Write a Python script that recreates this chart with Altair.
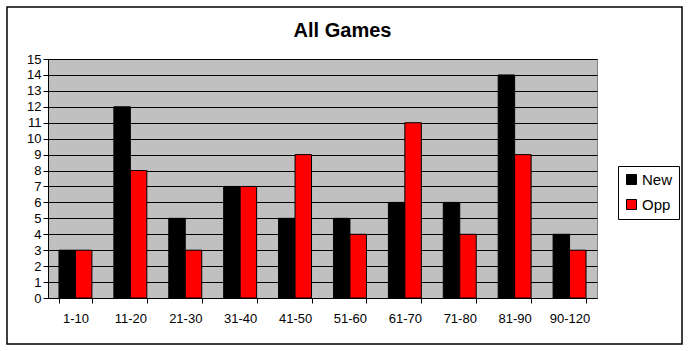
import altair as alt
import pandas as pd

categories = ["1-10", "11-20", "21-30", "31-40", "41-50", "51-60", "61-70", "71-80", "81-90", "90-120"]
new_vals = [3, 12, 5, 7, 5, 5, 6, 6, 14, 4]
opp_vals = [3, 8, 3, 7, 9, 4, 11, 4, 9, 3]
series = ["New", "Opp"]
colors = ["#000000", "#ff0000"]

rows = []
for c, n, o in zip(categories, new_vals, opp_vals):
    rows.append({"range": c, "series": "New", "count": n})
    rows.append({"range": c, "series": "Opp", "count": o})
df = pd.DataFrame(rows)

FONT = "Liberation Sans"

bars = alt.Chart(df).mark_bar(stroke="black", strokeWidth=1).encode(
    x=alt.X("range:N", sort=categories, title=None,
            scale=alt.Scale(paddingInner=0.4, paddingOuter=0.2),
            axis=alt.Axis(labelAngle=0, tickBand="extent", labelPadding=9, tickSize=5,
                          labelFontSize=13, labelFont=FONT, labelColor="black",
                          domainColor="black", tickColor="black", grid=False)),
    xOffset=alt.XOffset("series:N", sort=series),
    y=alt.Y("count:Q", title=None,
            scale=alt.Scale(domain=[0, 15], nice=False),
            axis=alt.Axis(values=list(range(0, 16)), tickSize=5, labelPadding=2,
                          labelFontSize=13, labelFont=FONT, labelColor="black",
                          domainColor="black", tickColor="black",
                          grid=True, gridColor="black", gridWidth=1)),
    color=alt.Color("series:N", sort=series,
                    scale=alt.Scale(domain=series, range=colors),
                    legend=alt.Legend(title=None, orient="none", legendX=570, legendY=107,
                                      symbolType="square", symbolSize=100,
                                      symbolStrokeColor="black", symbolStrokeWidth=1,
                                      labelFontSize=15, labelFont=FONT,
                                      strokeColor="black", padding=6, rowPadding=9,
                                      labelOffset=3)),
)

border = alt.Chart(pd.DataFrame({"a": [0]})).mark_rect(
    fill=None, stroke="black", strokeWidth=1.5, clip=False
).encode(
    x=alt.value(-41), x2=alt.value(634), y=alt.value(-52), y2=alt.value(285)
)

chart = alt.layer(bars, border).properties(
    width=549, height=239,
    title=alt.TitleParams("All Games", fontSize=20, font=FONT, fontWeight="bold",
                          color="black", offset=-35, dx=20),
    padding={"left": 48, "top": 59, "right": 91, "bottom": 53},
    autosize=alt.AutoSizeParams(type="none"),
    background="white",
).configure_view(fill="#c0c0c0", stroke="#808080")

chart.save("out.html", embed_options={"renderer": "svg", "actions": False})
